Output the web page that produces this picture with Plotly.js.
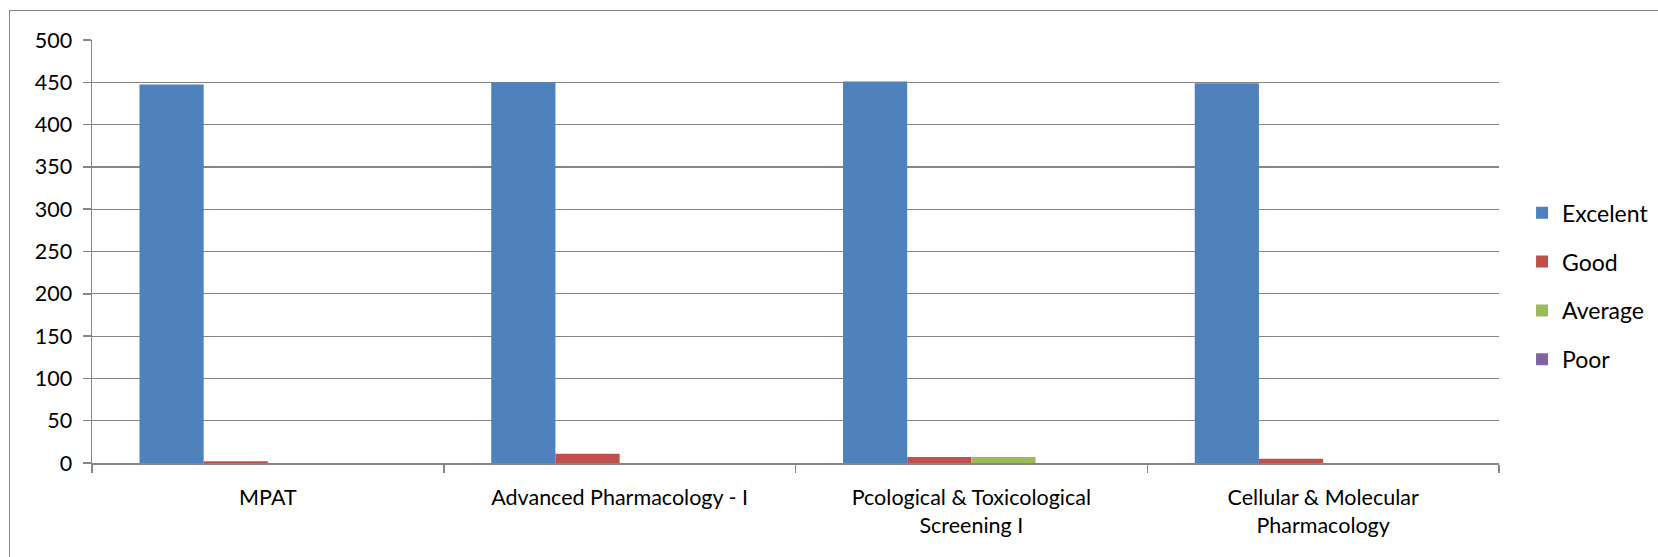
<!DOCTYPE html>
<html><head><meta charset="utf-8">
<script src="https://cdn.plot.ly/plotly-3.0.1.min.js"></script>
<style>
html,body{margin:0;padding:0;background:#fff;}
#wrap{position:relative;width:1658px;height:557px;overflow:hidden;}
#chart{position:absolute;left:0;top:0;width:1658px;height:557px;}
#frame{position:absolute;left:9px;top:10px;width:1660px;height:560px;border:1px solid #868686;pointer-events:none;}
</style></head>
<body><div id="wrap"><div id="chart"></div><div id="frame"></div></div>
<script>
const categories = ["MPAT", "Advanced Pharmacology - I", "Pcological & Toxicological<br>Screening I", "Cellular & Molecular<br>Pharmacology"];
const seriesNames = ["Excelent", "Good", "Average", "Poor"];
const excelent = [447.5, 450, 451, 449];
const good = [2, 11, 7, 5];
const average = [0, 0, 7, 0];
const poor = [0, 0, 0, 0];
const colors = ["#4F81BD", "#C0504D", "#9BBB59", "#8064A2"];
const yTicks = [0, 50, 100, 150, 200, 250, 300, 350, 400, 450, 500];

const values = [excelent, good, average, poor];
const traces = values.map((v, i) => ({
  type: "bar", name: seriesNames[i], x: categories, y: v,
  marker: {color: colors[i], line: {width: 0}},
  legendgroup: "g" + i, hoverinfo: "x+y+name"
}));

const font = {family: "Lato, 'Open Sans', sans-serif", size: 21.5, color: "#000"};
const layout = {
  width: 1658, height: 557,
  margin: {l: 92, r: 159, t: 40, b: 94, pad: 0, autoexpand: false},
  paper_bgcolor: "#fff", plot_bgcolor: "#fff",
  font: font,
  barmode: "group", bargap: 0.27, bargroupgap: 0,
  showlegend: true,
  legend: {xref: "container", x: 0.918, xanchor: "left", yref: "paper", y: 0.418, yanchor: "middle",
    font: {family: font.family, size: 23, color: "#000"},
    tracegroupgap: 16, itemwidth: 30, bgcolor: "rgba(0,0,0,0)"},
  xaxis: {type: "category", showline: true, linecolor: "#868686", linewidth: 1.5,
    ticks: "outside", tickson: "boundaries", ticklen: 8, tickcolor: "#868686", tickwidth: 1.5,
    showgrid: false, tickfont: font, zeroline: false, ticklabelstandoff: 15},
  yaxis: {range: [0, 500], tickvals: yTicks, ticktext: yTicks.map(String),
    showline: true, linecolor: "#868686", linewidth: 1.5,
    ticks: "outside", ticklen: 8, tickcolor: "#868686", tickwidth: 1.5,
    showgrid: true, gridcolor: "#868686", gridwidth: 1.2, zeroline: false,
    tickfont: font, ticklabelstandoff: 6}
};
Plotly.newPlot("chart", traces, layout, {displayModeBar: false, staticPlot: true});
</script></body></html>
